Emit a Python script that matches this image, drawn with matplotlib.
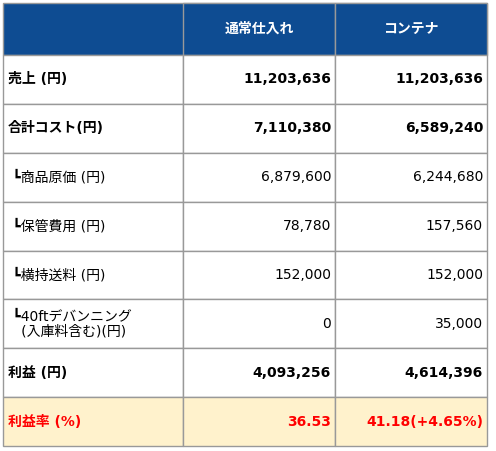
import matplotlib
matplotlib.use("Agg")
import matplotlib.pyplot as plt
from matplotlib.patches import Rectangle

plt.rcParams['font.family'] = ['DejaVu Sans', 'Noto Sans CJK JP']

columns = ["通常仕入れ", "コンテナ"]
row_labels = ["売上 (円)", "合計コスト(円)", " ┗商品原価 (円)", " ┗保管費用 (円)",
              " ┗横持送料 (円)", " ┗40ftデバンニング\n   (入庫料含む)(円)", "利益 (円)", "利益率 (%)"]
col1 = ["11,203,636", "7,110,380", "6,879,600", "78,780", "152,000", "0", "4,093,256", "36.53"]
col2 = ["11,203,636", "6,589,240", "6,244,680", "157,560", "152,000", "35,000", "4,614,396", "41.18(+4.65%)"]
bold_rows = [True, True, False, False, False, False, True, True]

W, H = 496, 451
fig = plt.figure(figsize=(W / 100, H / 100), dpi=100)
ax = fig.add_axes([0, 0, 1, 1])
ax.set_xlim(0, W)
ax.set_ylim(H, 0)
ax.axis("off")

xs = [3, 183, 335, 487]
header_top, header_bot = 3, 55
row_h = (446 - header_bot) / len(row_labels)
border = "#999999"

ax.add_patch(Rectangle((xs[0], header_top), xs[-1] - xs[0], header_bot - header_top,
                       facecolor="#0E4C92", edgecolor=border, lw=1))
for i, c in enumerate(columns):
    ax.add_patch(Rectangle((xs[i + 1], header_top), xs[i + 2] - xs[i + 1], header_bot - header_top,
                           facecolor="#0E4C92", edgecolor=border, lw=1))
    ax.text((xs[i + 1] + xs[i + 2]) / 2, (header_top + header_bot) / 2, c, color="white",
            fontsize=10, fontweight="bold", ha="center", va="center")

for r, lab in enumerate(row_labels):
    y0 = header_bot + r * row_h
    last = r == len(row_labels) - 1
    fc = "#FFF2CC" if last else "white"
    color = "#FF0000" if last else "black"
    fw = "bold" if bold_rows[r] else "normal"
    for j in range(3):
        ax.add_patch(Rectangle((xs[j], y0), xs[j + 1] - xs[j], row_h, facecolor=fc, edgecolor=border, lw=1))
    yc = y0 + row_h / 2
    ax.text(xs[0] + 5, yc, lab, fontsize=10, fontweight=fw, color=color, ha="left", va="center",
            linespacing=1.1)
    ax.text(xs[2] - 4, yc, col1[r], fontsize=10, fontweight=fw, color=color, ha="right", va="center")
    ax.text(xs[3] - 4, yc, col2[r], fontsize=10, fontweight=fw, color=color, ha="right", va="center")

fig.savefig("out.png", dpi=100)
